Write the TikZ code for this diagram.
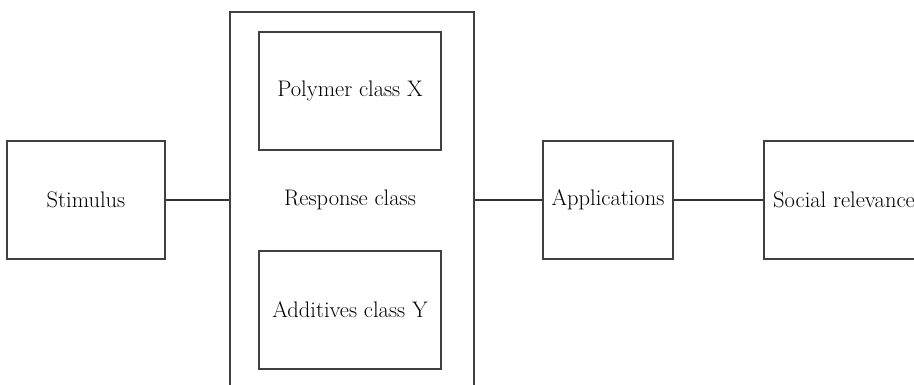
\documentclass[tikz,border=0pt]{standalone}
\begin{document}
\begin{tikzpicture}[x=1pt,y=-1pt,
  box/.style={draw=black!75,line width=1.3pt,inner sep=0pt,font=\fontsize{22.5}{27}\selectfont},
  lbl/.style={inner sep=0pt,font=\fontsize{22.5}{27}\selectfont},
  conn/.style={draw=black!80,line width=1.3pt}]
\useasboundingbox (0,0) rectangle (914,384);
\clip (0,0) rectangle (914,384);
\node[box,minimum width=158pt,minimum height=118pt] (stim) at (86,200) {Stimulus};
\node[box,minimum width=244pt,minimum height=380pt] (resp) at (352,202) {};
\node[lbl] (resplbl) at (350,200) {Response class};
\node[box,minimum width=182pt,minimum height=118pt] (poly) at (350,91) {Polymer class X};
\node[box,minimum width=182pt,minimum height=118pt] (add) at (350,310) {Additives class Y};
\node[box,minimum width=130pt,minimum height=118pt] (app) at (608,200) {Applications};
\node[box,minimum width=180pt,minimum height=118pt] (soc) at (854,200) {};
\node[lbl,anchor=west] (soclbl) at (773,200) {Social relevance};
\draw[conn] (stim.east) -- (stim.east -| resp.west);
\draw[conn] (app.west -| resp.east) -- (app.west);
\draw[conn] (app.east) -- (soc.west);
\end{tikzpicture}
\end{document}
